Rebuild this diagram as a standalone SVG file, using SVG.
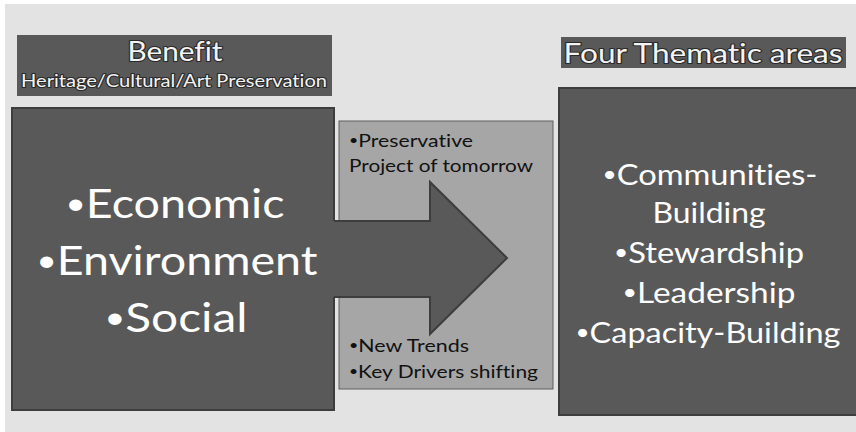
<svg xmlns="http://www.w3.org/2000/svg" width="856" height="432" viewBox="0 0 856 432">
<style>
text{font-variant-ligatures:none}
.big{font-family:Lato,"Open Sans","Liberation Sans",sans-serif;fill:#ffffff;text-anchor:middle}
.mid{font-family:Lato,"Open Sans","Liberation Sans",sans-serif;fill:#111111;font-size:17px}
.ttl{font-family:Lato,"Open Sans","Liberation Sans",sans-serif;fill:#f4f4f4;text-anchor:middle;stroke:#2a2a2a;stroke-width:2.2px;paint-order:stroke;stroke-linejoin:round}
.dark{fill:#595959;stroke:#3d3d3d;stroke-width:2}
.b{font-size:0.75em;baseline-shift:0.12em}
</style>
<rect x="0" y="0" width="856" height="432" fill="#ffffff"/>
<rect x="5" y="4" width="851" height="428" fill="#e3e3e3"/>

<g id="benefit-title">
<rect x="17" y="35" width="315" height="61" fill="#595959"/>
<text class="ttl" x="175" y="61" font-size="26" textLength="95" lengthAdjust="spacingAndGlyphs">Benefit</text>
<text class="ttl" x="174" y="87" font-size="17" textLength="306" lengthAdjust="spacingAndGlyphs">Heritage/Cultural/Art Preservation</text>
</g>

<g id="thematic-title">
<rect x="561" y="37" width="285" height="31" fill="#595959"/>
<text class="ttl" x="703" y="63" font-size="26" textLength="279" lengthAdjust="spacingAndGlyphs">Four Thematic areas</text>
</g>

<g id="middle-box">
<rect x="339" y="121" width="214" height="268" fill="#a6a6a6" stroke="#5e5e5e" stroke-width="1"/>
<text class="mid" x="349" y="147" textLength="124" lengthAdjust="spacingAndGlyphs"><tspan class="b">•</tspan>Preservative</text>
<text class="mid" x="349" y="172" textLength="184" lengthAdjust="spacingAndGlyphs">Project of tomorrow</text>
<text class="mid" x="349" y="352" textLength="120" lengthAdjust="spacingAndGlyphs"><tspan class="b">•</tspan>New Trends</text>
<text class="mid" x="349" y="378" textLength="189" lengthAdjust="spacingAndGlyphs"><tspan class="b">•</tspan>Key Drivers shifting</text>
</g>

<g id="benefit-box">
<rect class="dark" x="12" y="108" width="322" height="302"/>
<text class="big" x="175" y="218" font-size="40" textLength="219" lengthAdjust="spacingAndGlyphs"><tspan class="b">•</tspan>Economic</text>
<text class="big" x="177" y="275" font-size="40" textLength="281" lengthAdjust="spacingAndGlyphs"><tspan class="b">•</tspan>Environment</text>
<text class="big" x="176" y="332" font-size="40" textLength="143" lengthAdjust="spacingAndGlyphs"><tspan class="b">•</tspan>Social</text>
</g>

<g id="connectors">
<polygon points="332,221 430,221 430,182 507,258 430,334 430,297 332,297" fill="#595959"/>
<polyline points="334,221 430,221 430,182 507,258 430,334 430,297 334,297" fill="none" stroke="#3d3d3d" stroke-width="2"/>
</g>

<g id="thematic-box">
<rect class="dark" x="559" y="88" width="300" height="327"/>
<text class="big" x="710" y="185" font-size="28" textLength="215" lengthAdjust="spacingAndGlyphs"><tspan class="b">•</tspan>Communities-</text>
<text class="big" x="709" y="223" font-size="28" textLength="113" lengthAdjust="spacingAndGlyphs">Building</text>
<text class="big" x="709" y="263" font-size="28" textLength="190" lengthAdjust="spacingAndGlyphs"><tspan class="b">•</tspan>Stewardship</text>
<text class="big" x="709" y="303" font-size="28" textLength="173" lengthAdjust="spacingAndGlyphs"><tspan class="b">•</tspan>Leadership</text>
<text class="big" x="708" y="343" font-size="28" textLength="265" lengthAdjust="spacingAndGlyphs"><tspan class="b">•</tspan>Capacity-Building</text>
</g>
</svg>
